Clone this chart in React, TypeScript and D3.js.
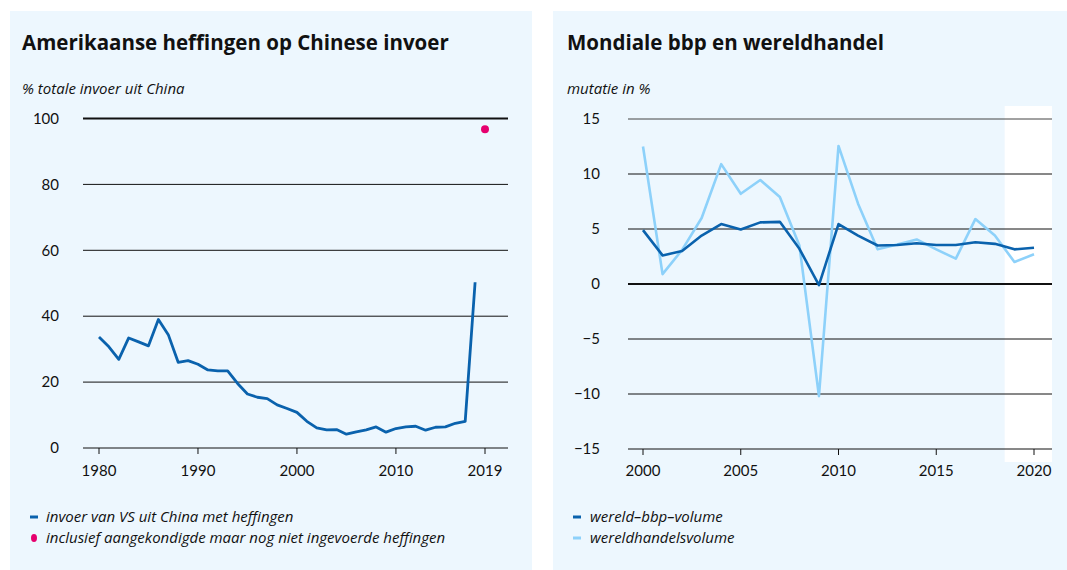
import React from "react";
import * as d3 from "d3";

// links: aandeel Chinese invoer met heffingen (% totale invoer uit China)
const tariffYears = d3.range(1980, 2019);
const tariffValues = [
  33.7, 30.7, 26.9, 33.4, 32.2, 31.0, 39.0, 34.4, 26.0, 26.5,
  25.4, 23.7, 23.4, 23.4, 19.6, 16.4, 15.4, 15.0, 13.1, 12.0,
  10.8, 8.1, 6.1, 5.5, 5.6, 4.2, 4.9, 5.5, 6.4, 4.8,
  5.9, 6.4, 6.6, 5.4, 6.3, 6.4, 7.5, 8.1, 50.3,
];
const announcedYear = 2019;
const announcedValue = 96.7;
const tariffYTicks = [0, 20, 40, 60, 80, 100];
const tariffXTicks = [1980, 1990, 2000, 2010, 2019];

// rechts: mutatie in %
const worldYears = d3.range(2000, 2021);
const gdpValues = [
  4.9, 2.6, 3.0, 4.4, 5.45, 4.95, 5.6, 5.65, 3.2, -0.1,
  5.45, 4.4, 3.5, 3.55, 3.7, 3.55, 3.55, 3.8, 3.65, 3.15, 3.3,
];
const tradeValues = [
  12.5, 0.9, 3.1, 6.0, 10.9, 8.2, 9.45, 7.9, 3.5, -10.2,
  12.55, 7.3, 3.15, 3.6, 4.05, 3.15, 2.3, 5.9, 4.4, 2.0, 2.7,
];
const worldYTicks = [-15, -10, -5, 0, 5, 10, 15];
const worldXTicks = [2000, 2005, 2010, 2015, 2020];
const forecastFrom = 2018.5;

const DARK = "#0a62ad";
const LIGHT = "#8dd1fa";
const PINK = "#e6006e";
const PANEL = "#edf7fe";
const SANS = "Lato, 'Open Sans', sans-serif";
const TITLE = "'Open Sans', Lato, sans-serif";

const App = () => {
  // linker grafiek
  const xL = d3.scaleLinear().domain([1980, 2019]).range([99, 485]);
  const yL = d3.scaleLinear().domain([0, 100]).range([448, 118.5]);
  const lineL = d3
    .line<number>()
    .x((d, i) => xL(tariffYears[i]))
    .y((d) => yL(d))
    .curve(d3.curveLinear);

  // rechter grafiek
  const xR = d3.scaleLinear().domain([2000, 2020]).range([643, 1034]);
  const yR = d3.scaleLinear().domain([-15, 15]).range([449, 119]);
  const lineR = d3
    .line<number>()
    .x((d, i) => xR(worldYears[i]))
    .y((d) => yR(d));

  const gridL = [83, 508];
  const gridR = [628, 1052];

  const italic = {
    fontFamily: TITLE,
    fontStyle: "italic" as const,
    fontSize: 15,
    fill: "#111",
  };

  return (
    <svg
      width={1067}
      height={570}
      style={{ position: "absolute", left: 0, top: 0, background: "#fff" }}
      fontFamily={SANS}
    >
      <rect x={10} y={11} width={522} height={559} fill={PANEL} />
      <rect x={553} y={11} width={514} height={559} fill={PANEL} />

      {/* ---- links ---- */}
      <text x={22} y={50} fontSize={20.5} fontWeight={700} fontFamily={TITLE} fill="#111">
        Amerikaanse heffingen op Chinese invoer
      </text>
      <text x={22} y={94} {...italic}>
        % totale invoer uit China
      </text>

      {tariffYTicks.map((t) => (
        <g key={t}>
          <line
            x1={gridL[0]}
            x2={gridL[1]}
            y1={yL(t)}
            y2={yL(t)}
            stroke="#111"
            strokeWidth={t === 100 ? 2 : 1}
          />
          <text
            x={59}
            y={yL(t)}
            dy="0.35em"
            textAnchor="end"
            fontSize={15}
            fill="#111"
          >
            {t}
          </text>
        </g>
      ))}
      {tariffXTicks.map((t) => (
        <g key={t}>
          <line x1={xL(t)} x2={xL(t)} y1={448} y2={454} stroke="#111" />
          <text x={xL(t)} y={476} textAnchor="middle" fontSize={15} fill="#111">
            {t}
          </text>
        </g>
      ))}
      <path
        d={lineL(tariffValues) || ""}
        fill="none"
        stroke={DARK}
        strokeWidth={2.8}
        strokeLinejoin="round"
      />
      <circle cx={xL(announcedYear)} cy={yL(announcedValue)} r={4} fill={PINK} />

      <line x1={30} x2={38} y1={517} y2={517} stroke={DARK} strokeWidth={3} />
      <text x={46} y={522} {...italic}>
        invoer van VS uit China met heffingen
      </text>
      <ellipse cx={34} cy={538} rx={3} ry={4} fill={PINK} />
      <text x={46} y={543} {...italic}>
        inclusief aangekondigde maar nog niet ingevoerde heffingen
      </text>

      {/* ---- rechts ---- */}
      <text x={567} y={50} fontSize={20.5} fontWeight={700} fontFamily={TITLE} fill="#111">
        Mondiale bbp en wereldhandel
      </text>
      <text x={567} y={94} {...italic}>
        mutatie in %
      </text>

      <rect
        x={xR(forecastFrom)}
        y={106}
        width={gridR[1] - xR(forecastFrom)}
        height={356}
        fill="#fff"
      />
      {worldYTicks.map((t) => (
        <g key={t}>
          <line
            x1={gridR[0]}
            x2={gridR[1]}
            y1={yR(t)}
            y2={yR(t)}
            stroke={t === 15 ? "#444" : "#111"}
            strokeWidth={t === 0 ? 2 : 1}
          />
          <text
            x={600}
            y={yR(t)}
            dy="0.35em"
            textAnchor="end"
            fontSize={15}
            fill="#111"
          >
            {t < 0 ? `\u2212${-t}` : t}
          </text>
        </g>
      ))}
      {worldXTicks.map((t) => (
        <g key={t}>
          <line x1={xR(t)} x2={xR(t)} y1={449} y2={455} stroke="#111" />
          <text x={xR(t)} y={476} textAnchor="middle" fontSize={15} fill="#111">
            {t}
          </text>
        </g>
      ))}
      <path
        d={lineR(tradeValues) || ""}
        fill="none"
        stroke={LIGHT}
        strokeWidth={2.6}
        strokeLinejoin="round"
      />
      <path
        d={lineR(gdpValues) || ""}
        fill="none"
        stroke={DARK}
        strokeWidth={2.6}
        strokeLinejoin="round"
      />

      <line x1={573} x2={581} y1={517} y2={517} stroke={DARK} strokeWidth={3} />
      <text x={590} y={522} {...italic}>
        wereld–bbp–volume
      </text>
      <line x1={573} x2={581} y1={538} y2={538} stroke={LIGHT} strokeWidth={3} />
      <text x={590} y={543} {...italic}>
        wereldhandelsvolume
      </text>
    </svg>
  );
};

export default App;
